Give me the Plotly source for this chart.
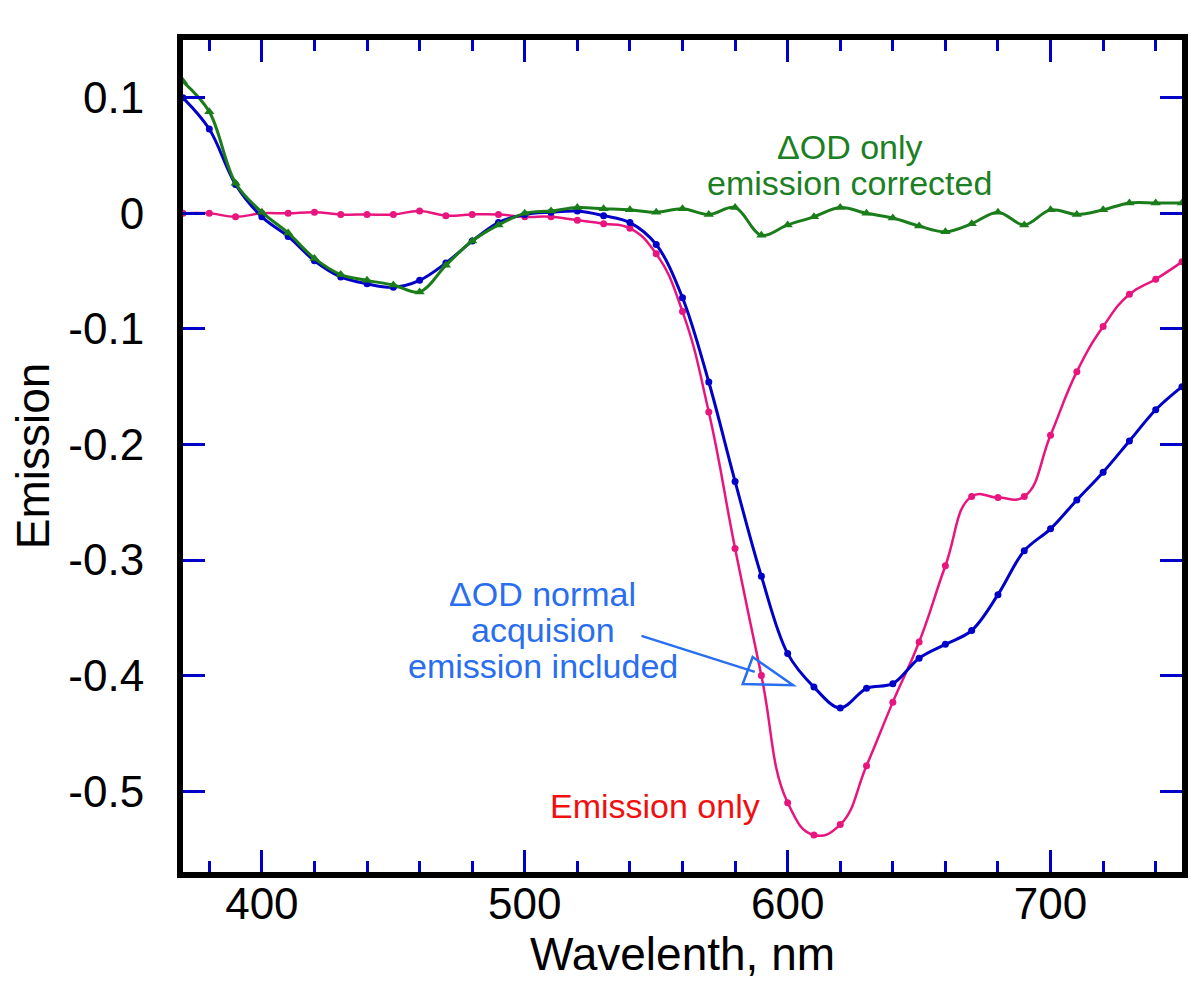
import plotly.graph_objects as go

wavelength = [370, 380, 390, 400, 410, 420, 430, 440, 450, 460,
              470, 480, 490, 500, 510, 520, 530, 540, 550, 560,
              570, 580, 590, 600, 610, 620, 630, 640, 650, 660,
              670, 680, 690, 700, 710, 720, 730, 740, 750]

emission_only = [0.000, 0.000, -0.003, 0.000, 0.000, 0.001, -0.001, -0.001, -0.001, 0.002,
                 -0.002, -0.001, -0.001, -0.003, -0.003, -0.006, -0.009, -0.013, -0.035, -0.085,
                 -0.172, -0.290, -0.400, -0.510, -0.538, -0.529, -0.478, -0.423, -0.371, -0.305,
                 -0.245, -0.246, -0.245, -0.192, -0.137, -0.098, -0.070, -0.057, -0.042]

dod_normal = [0.100, 0.073, 0.025, -0.003, -0.020, -0.041, -0.055, -0.061, -0.064, -0.058,
              -0.043, -0.024, -0.008, -0.001, 0.001, 0.002, -0.002, -0.008, -0.027, -0.073,
              -0.146, -0.232, -0.314, -0.381, -0.410, -0.428, -0.411, -0.407, -0.385, -0.373,
              -0.361, -0.330, -0.292, -0.273, -0.248, -0.224, -0.197, -0.170, -0.150]

dod_corrected = [0.114, 0.088, 0.026, 0.001, -0.017, -0.039, -0.053, -0.058, -0.062, -0.068,
                 -0.045, -0.024, -0.010, 0.000, 0.002, 0.005, 0.004, 0.003, 0.001, 0.004,
                 -0.001, 0.005, -0.019, -0.010, -0.003, 0.005, 0.000, -0.004, -0.011, -0.016,
                 -0.009, 0.001, -0.010, 0.003, -0.001, 0.003, 0.009, 0.009, 0.009]

x_tickvals = [400, 500, 600, 700]
x_ticktext = ["400", "500", "600", "700"]
y_tickvals = [0.1, 0.0, -0.1, -0.2, -0.3, -0.4, -0.5]
y_ticktext = ["0.1", "0", "-0.1", "-0.2", "-0.3", "-0.4", "-0.5"]

PINK = "#e8157f"
BLUE = "#0000c8"
GREEN = "#1a7d1a"
FONT = "Liberation Sans, Arial, Helvetica, sans-serif"

fig = go.Figure()
fig.add_trace(go.Scatter(x=wavelength, y=emission_only, mode="lines+markers",
                         line=dict(color=PINK, width=2.5, shape="spline", smoothing=1.3),
                         marker=dict(symbol="circle", size=7, color=PINK),
                         name="Emission only"))
fig.add_trace(go.Scatter(x=wavelength, y=dod_normal, mode="lines+markers",
                         line=dict(color=BLUE, width=3, shape="spline", smoothing=1.0),
                         marker=dict(symbol="circle", size=7, color=BLUE),
                         name="ΔOD normal"))
fig.add_trace(go.Scatter(x=wavelength, y=dod_corrected, mode="lines+markers",
                         line=dict(color=GREEN, width=3, shape="spline", smoothing=1.0),
                         marker=dict(symbol="triangle-up", size=9, color=GREEN),
                         name="ΔOD corrected"))

axis_common = dict(showline=True, linecolor="black", linewidth=6, mirror="ticks",
                   ticks="inside", tickcolor=BLUE, tickwidth=3, ticklen=22,
                   showgrid=False, zeroline=False,
                   tickfont=dict(family=FONT, size=44, color="black"))

fig.update_xaxes(range=[370, 750], tickvals=x_tickvals, ticktext=x_ticktext,
                 minor=dict(dtick=20, ticks="inside", ticklen=11, tickwidth=3, tickcolor=BLUE),
                 title=dict(text="Wavelenth, nm", font=dict(family=FONT, size=46, color="black"), standoff=0),
                 ticklabelstandoff=-12, **axis_common)
fig.update_yaxes(range=[-0.57, 0.15], tickvals=y_tickvals, ticktext=y_ticktext,
                 title=dict(text="Emission", font=dict(family=FONT, size=46, color="black"), standoff=6),
                 ticklabelstandoff=24, **axis_common)

ann_font = lambda c: dict(family=FONT, size=34, color=c)
GTXT = "#1c7f24"
BTXT = "#2a6ef0"
RTXT = "#f01010"
annotations = [
    dict(x=623.6, y=0.0571, text="ΔOD only", font=ann_font(GTXT)),
    dict(x=623.6, y=0.026, text="emission corrected", font=ann_font(GTXT)),
    dict(x=506.9, y=-0.3296, text="ΔOD normal", font=ann_font(BTXT)),
    dict(x=506.9, y=-0.3607, text="acquision", font=ann_font(BTXT)),
    dict(x=506.9, y=-0.3919, text="emission included", font=ann_font(BTXT)),
    dict(x=549.5, y=-0.513, text="Emission only", font=ann_font(RTXT)),
]
for a in annotations:
    fig.add_annotation(xref="x", yref="y", showarrow=False, xanchor="center", yanchor="middle", **a)

# arrow pointing from the blue label toward the curves (open triangle head)
fig.add_shape(type="line", xref="x", yref="y", x0=544.4, y0=-0.3657, x1=587.5, y1=-0.3968,
              line=dict(color=BTXT, width=2.5))
fig.add_shape(type="path", xref="x", yref="y",
              path="M 586.7 -0.384 L 602.05 -0.4083 L 582.9 -0.4074 Z",
              line=dict(color=BTXT, width=2.5), fillcolor="rgba(0,0,0,0)")

fig.update_layout(width=1200, height=995, margin=dict(l=183, r=18, t=40, b=123),
                  paper_bgcolor="white", plot_bgcolor="white", showlegend=False)

fig.write_html("out.html")
